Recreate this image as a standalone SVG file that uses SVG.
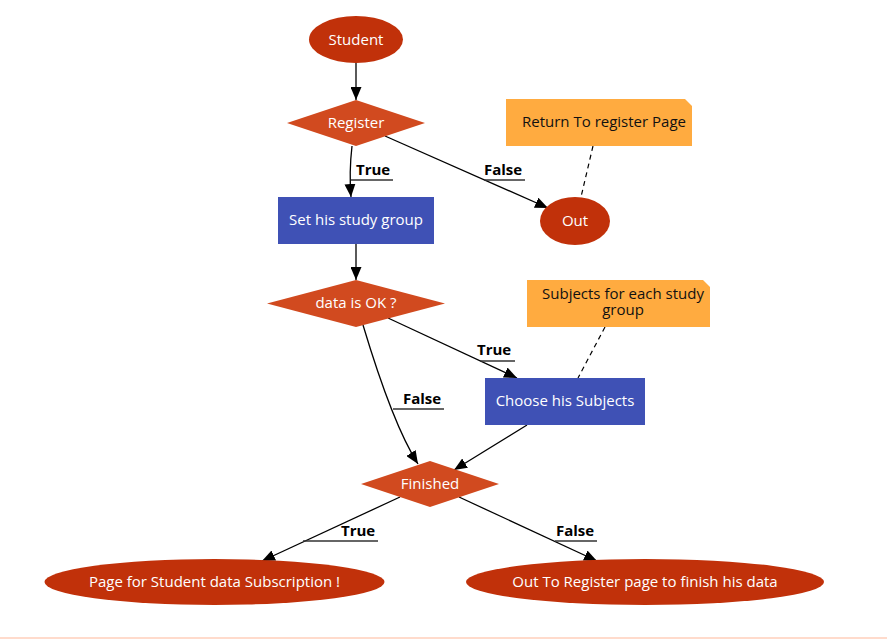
<svg xmlns="http://www.w3.org/2000/svg" width="887" height="639" viewBox="0 0 887 639">
<style>
.ell{fill:#C1310A}
.dia{fill:#D14A1F}
.box{fill:#3F51B5}
.note{fill:#FFAB40}
.t{font-family:"Open Sans","DejaVu Sans",sans-serif;font-size:15px;text-anchor:middle;fill:#fff}
.tn{font-family:"Open Sans","DejaVu Sans",sans-serif;font-size:15px;text-anchor:middle;fill:#111}
.lbl{font-family:"Open Sans","DejaVu Sans",sans-serif;font-size:15px;font-weight:bold;fill:#000}
.c{fill:none;stroke:#000;stroke-width:1.3;marker-end:url(#ah)}
.d{fill:none;stroke:#000;stroke-width:1.2;stroke-dasharray:5,4}
.u{stroke:#333;stroke-width:1.3}
</style>
<defs>
<marker id="ah" markerUnits="userSpaceOnUse" markerWidth="13" markerHeight="11" refX="13" refY="5.5" orient="auto">
<path d="M0,0 L13,5.5 L0,11 z" fill="#000"/>
</marker>
</defs>
<rect width="887" height="639" fill="#fff"/>
<line x1="0" y1="638" x2="887" y2="638" stroke="#FFB89A" stroke-width="1.2"/>
<g id="connectors">
<path class="c" d="M356,63 L356,100"/>
<path class="c" d="M352,146 Q349,172 351,197"/>
<path class="c" d="M385,136 L548,208"/>
<path class="c" d="M356,244 L356,280"/>
<path class="c" d="M388,318 L517,378"/>
<path class="c" d="M363,325 Q393,425 418,464"/>
<path class="c" d="M527,425 L454,470"/>
<path class="c" d="M400,497 L262,561"/>
<path class="c" d="M459,497 L597,561"/>
<path class="d" d="M593,146 L581,197"/>
<path class="d" d="M605,327 L578,378"/>
<line class="u" x1="351" y1="180" x2="393" y2="180"/>
<text class="lbl" x="356" y="175">True</text>
<line class="u" x1="484" y1="180" x2="525" y2="180"/>
<text class="lbl" x="484" y="175">False</text>
<line class="u" x1="480" y1="361" x2="515" y2="361"/>
<text class="lbl" x="477" y="355">True</text>
<line class="u" x1="393" y1="409" x2="444" y2="409"/>
<text class="lbl" x="403" y="404">False</text>
<line class="u" x1="303" y1="541" x2="378" y2="541"/>
<text class="lbl" x="341" y="536">True</text>
<line class="u" x1="555" y1="541" x2="597" y2="541"/>
<text class="lbl" x="556" y="536">False</text>
</g>
<g id="student">
<ellipse class="ell" cx="356" cy="39.5" rx="47" ry="23.5"/>
<text class="t" x="356" y="44.5">Student</text>
</g>
<g id="register">
<polygon class="dia" points="287,123 356,100 425,123 356,146"/>
<text class="t" x="356" y="128">Register</text>
</g>
<g id="note-return">
<polygon class="note" points="506,99 685,99 692,106 692,146 506,146"/>
<text class="tn" x="604" y="127">Return To register Page</text>
</g>
<g id="set-group">
<rect class="box" x="278" y="197" width="156" height="47"/>
<text class="t" x="356" y="225">Set his study group</text>
</g>
<g id="out">
<ellipse class="ell" cx="575" cy="221" rx="35" ry="24"/>
<text class="t" x="575" y="226">Out</text>
</g>
<g id="data-ok">
<polygon class="dia" points="267,303.5 356,280 445,303.5 356,327"/>
<text class="t" x="356" y="308">data is OK ?</text>
</g>
<g id="note-subjects">
<polygon class="note" points="527,280 703,280 710,287 710,327 527,327"/>
<text class="tn" x="623" y="299">Subjects for each study</text>
<text class="tn" x="623" y="315">group</text>
</g>
<g id="choose-subjects">
<rect class="box" x="485" y="378" width="160" height="47"/>
<text class="t" x="565" y="406">Choose his Subjects</text>
</g>
<g id="finished">
<polygon class="dia" points="361,484 430,461 499,484 430,507"/>
<text class="t" x="430" y="489">Finished</text>
</g>
<g id="page-subscription">
<ellipse class="ell" cx="214.5" cy="582" rx="170" ry="23"/>
<text class="t" x="214.5" y="587">Page for Student data Subscription !</text>
</g>
<g id="out-register">
<ellipse class="ell" cx="645" cy="582" rx="179" ry="23"/>
<text class="t" x="645" y="587">Out To Register page to finish his data</text>
</g>
</svg>
